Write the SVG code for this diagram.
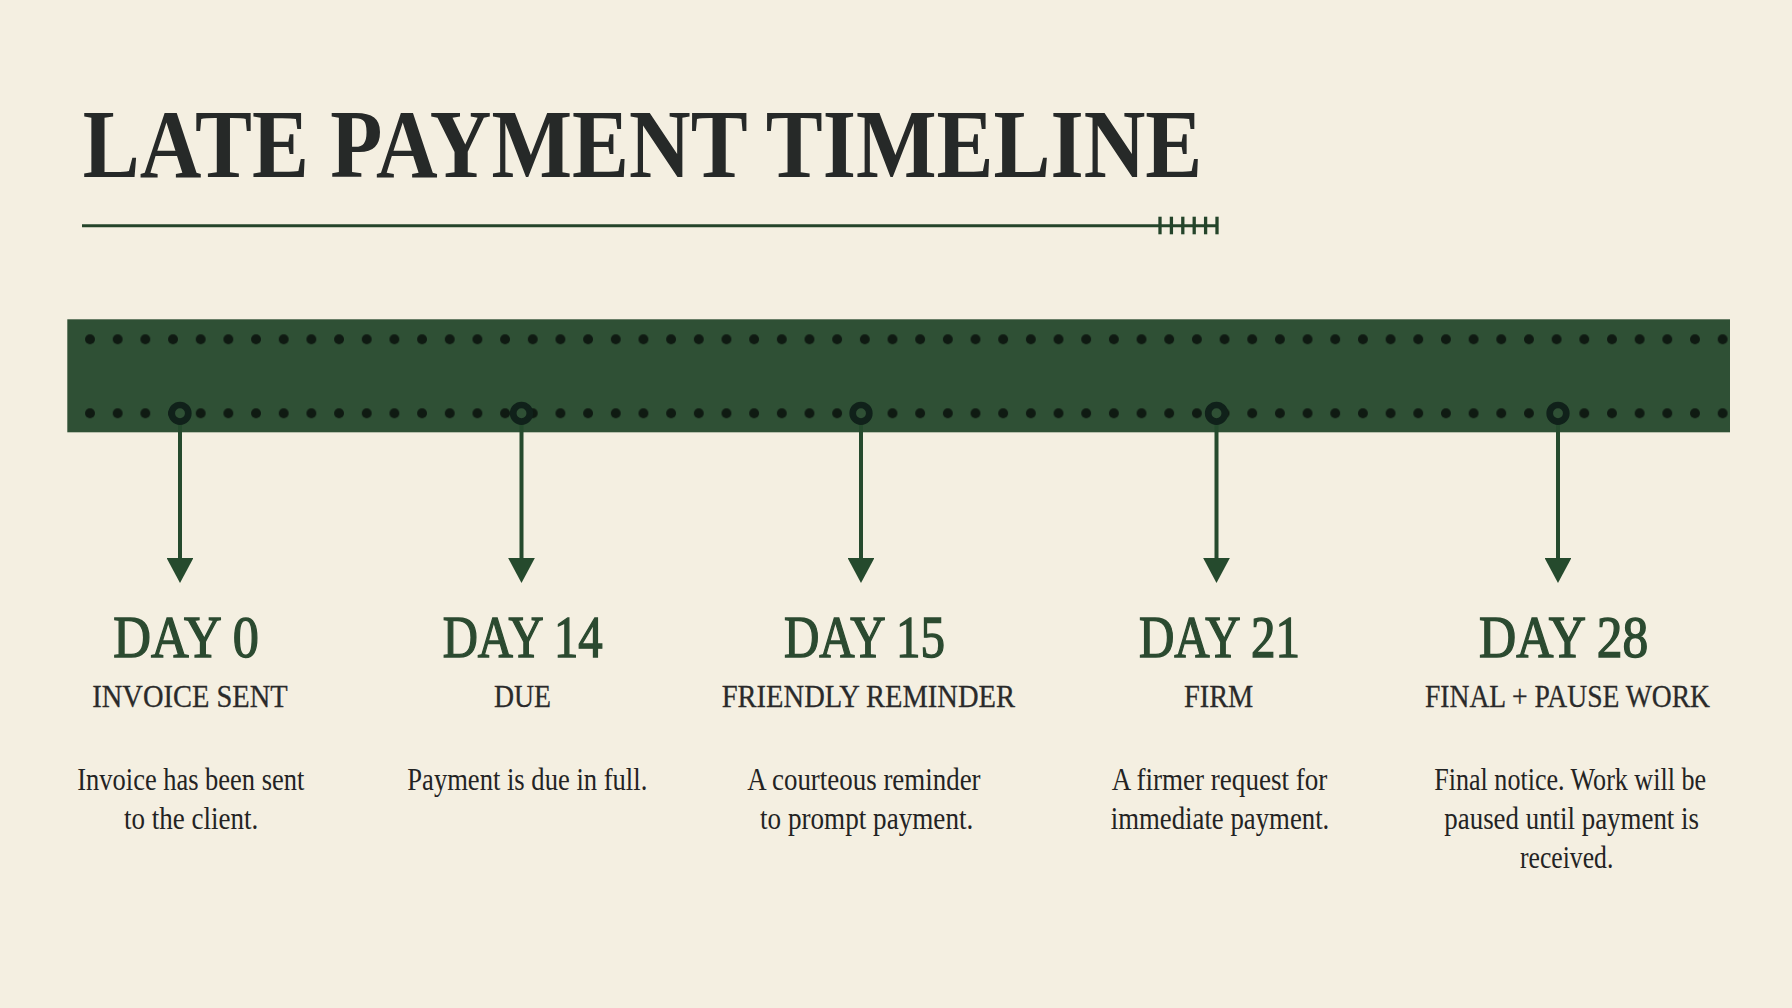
<svg xmlns="http://www.w3.org/2000/svg" width="1792" height="1008" viewBox="0 0 1792 1008">
  <style>
    .title { font-family: "Liberation Serif", "Times New Roman", serif; font-weight: bold; font-size: 98px; fill: #262928; }
    .day { font-family: "Liberation Serif", "Times New Roman", serif; font-weight: normal; font-size: 59px; fill: #2b4a30; stroke: #2b4a30; stroke-width: 1.4px; }
    .sub { font-family: "Liberation Serif", "Times New Roman", serif; font-size: 32.5px; fill: #2a2a2a; stroke: #2a2a2a; stroke-width: 0.3px; }
    .body { font-family: "Liberation Serif", "Times New Roman", serif; font-size: 31px; fill: #232323; }
    .conn { stroke: #254a2d; stroke-width: 4; fill: none; }
    .ring { fill: #2f5035; stroke: #10211a; stroke-width: 6.7; }
    .rule { stroke: #24442a; stroke-width: 3; }
  </style>
  <defs>
    <pattern id="holes" patternUnits="userSpaceOnUse" x="76.164" y="329.3" width="27.672" height="74">
      <circle cx="13.836" cy="10" r="5" fill="#0f1a12"/>
    </pattern>
    <marker id="arrow" viewBox="0 0 25 26.7" refX="0" refY="13.35" markerWidth="25" markerHeight="26.7" markerUnits="userSpaceOnUse" orient="auto">
      <path d="M0,0 L25,13.35 L0,26.7 Z" fill="#254a2d"/>
    </marker>
  </defs>

  <rect x="0" y="0" width="1792" height="1008" fill="#f4efe1"/>

  <g id="title">
    <text class="title" x="82.7" y="177.3" textLength="1119.6" lengthAdjust="spacingAndGlyphs">LATE PAYMENT TIMELINE</text>
    <line class="rule" x1="82" y1="225.7" x2="1217" y2="225.7"/>
    <g stroke="#24442a" stroke-width="3.3">
      <line x1="1160" y1="216.7" x2="1160" y2="234.3"/>
      <line x1="1171.4" y1="216.7" x2="1171.4" y2="234.3"/>
      <line x1="1182.8" y1="216.7" x2="1182.8" y2="234.3"/>
      <line x1="1194.2" y1="216.7" x2="1194.2" y2="234.3"/>
      <line x1="1205.6" y1="216.7" x2="1205.6" y2="234.3"/>
      <line x1="1217" y1="216.7" x2="1217" y2="234.3"/>
    </g>
  </g>

  <g id="timeline-bar">
    <rect x="67.3" y="319.3" width="1662.7" height="113" fill="#2f5035"/>
    <rect x="76.164" y="329.3" width="1660.32" height="20" fill="url(#holes)"/>
    <rect x="76.164" y="403.3" width="1660.32" height="20" fill="url(#holes)"/>
  </g>

  <g id="connectors">
    <line class="conn" x1="180" y1="424" x2="180" y2="558" marker-end="url(#arrow)"/>
    <line class="conn" x1="521.5" y1="424" x2="521.5" y2="558" marker-end="url(#arrow)"/>
    <line class="conn" x1="861" y1="424" x2="861" y2="558" marker-end="url(#arrow)"/>
    <line class="conn" x1="1216.5" y1="424" x2="1216.5" y2="558" marker-end="url(#arrow)"/>
    <line class="conn" x1="1558" y1="424" x2="1558" y2="558" marker-end="url(#arrow)"/>
  </g>

  <g id="node-day0">
    <circle class="ring" cx="180" cy="413.3" r="8.3"/>
    <text class="day" x="113.3" y="657.3" textLength="145.7" lengthAdjust="spacingAndGlyphs">DAY 0</text>
    <text class="sub" x="92.3" y="706.6" textLength="195.4" lengthAdjust="spacingAndGlyphs">INVOICE SENT</text>
    <text class="body" x="77.3" y="790" textLength="227" lengthAdjust="spacingAndGlyphs">Invoice has been sent</text>
    <text class="body" x="124" y="829.3" textLength="134.3" lengthAdjust="spacingAndGlyphs">to the client.</text>
  </g>

  <g id="node-day14">
    <circle class="ring" cx="521.5" cy="413.3" r="8.3"/>
    <text class="day" x="442.7" y="657.3" textLength="160" lengthAdjust="spacingAndGlyphs">DAY 14</text>
    <text class="sub" x="494" y="706.6" textLength="57" lengthAdjust="spacingAndGlyphs">DUE</text>
    <text class="body" x="407.3" y="790" textLength="240" lengthAdjust="spacingAndGlyphs">Payment is due in full.</text>
  </g>

  <g id="node-day15">
    <circle class="ring" cx="861" cy="413.3" r="8.3"/>
    <text class="day" x="784" y="657.3" textLength="161" lengthAdjust="spacingAndGlyphs">DAY 15</text>
    <text class="sub" x="721.7" y="706.6" textLength="293.3" lengthAdjust="spacingAndGlyphs">FRIENDLY REMINDER</text>
    <text class="body" x="747.3" y="790" textLength="233.3" lengthAdjust="spacingAndGlyphs">A courteous reminder</text>
    <text class="body" x="760" y="829.3" textLength="213.3" lengthAdjust="spacingAndGlyphs">to prompt payment.</text>
  </g>

  <g id="node-day21">
    <circle class="ring" cx="1216.5" cy="413.3" r="8.3"/>
    <text class="day" x="1139" y="657.3" textLength="161" lengthAdjust="spacingAndGlyphs">DAY 21</text>
    <text class="sub" x="1184" y="706.6" textLength="69.3" lengthAdjust="spacingAndGlyphs">FIRM</text>
    <text class="body" x="1111.7" y="790" textLength="215.6" lengthAdjust="spacingAndGlyphs">A firmer request for</text>
    <text class="body" x="1110.7" y="829.3" textLength="218.6" lengthAdjust="spacingAndGlyphs">immediate payment.</text>
  </g>

  <g id="node-day28">
    <circle class="ring" cx="1558" cy="413.3" r="8.3"/>
    <text class="day" x="1479" y="657.3" textLength="169.3" lengthAdjust="spacingAndGlyphs">DAY 28</text>
    <text class="sub" x="1425" y="706.6" textLength="285" lengthAdjust="spacingAndGlyphs">FINAL + PAUSE WORK</text>
    <text class="body" x="1434.3" y="790" textLength="271.7" lengthAdjust="spacingAndGlyphs">Final notice. Work will be</text>
    <text class="body" x="1444.3" y="829.3" textLength="254.7" lengthAdjust="spacingAndGlyphs">paused until payment is</text>
    <text class="body" x="1520" y="868.3" textLength="93.3" lengthAdjust="spacingAndGlyphs">received.</text>
  </g>
</svg>
